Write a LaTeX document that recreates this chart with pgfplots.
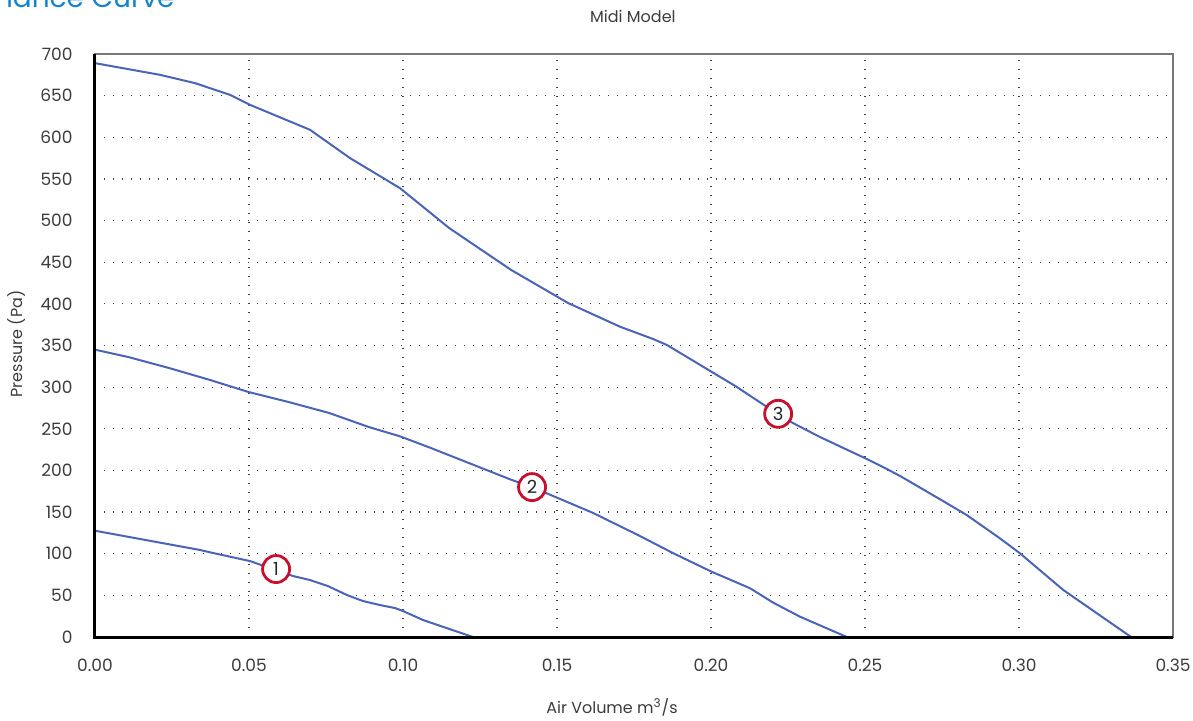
\documentclass[border=0pt]{standalone}
\usepackage{pgfplots}
\pgfplotsset{compat=1.18}
\usepackage{fontspec}
\setmainfont{Poppins}
\definecolor{curve}{RGB}{74,100,184}
\definecolor{ttl}{RGB}{20,132,206}
\definecolor{txt}{RGB}{60,60,60}
\definecolor{mark}{RGB}{200,16,46}
\definecolor{boxgray}{RGB}{120,120,120}
\pgfplotstableread{
x y
0.0000 127.6
0.0341 104.5
0.0383 100.9
0.0503 91.2
0.0643 73.2
0.0698 68.4
0.0756 61.2
0.0818 50.4
0.0870 43.2
0.0925 38.4
0.0974 34.8
0.1000 31.2
0.1065 20.4
0.1227 0
}\curveone
\pgfplotstableread{
x y
0.0000 345
0.0110 336
0.0240 323
0.0370 309
0.0500 294
0.0630 282
0.0760 269
0.0890 252
0.0990 241
0.1090 227
0.1220 208
0.1350 189
0.1419 180
0.1617 149
0.1769 121.3
0.1878 100.5
0.2002 78.4
0.2127 58.5
0.2202 41.2
0.2289 24.4
0.2441 0
}\curvetwo
\pgfplotstableread{
x y
0.0000 689
0.0211 675
0.0325 665
0.0438 651
0.0503 639
0.0698 609
0.0828 575
0.0990 539
0.1150 491
0.1350 441
0.1536 401
0.1705 372.5
0.1812 357.8
0.1857 350.6
0.2003 318.2
0.2084 300.2
0.2182 276.1
0.2266 256.9
0.2354 240.1
0.2506 213.7
0.2571 201.7
0.2614 193.3
0.2744 165.3
0.2830 146.5
0.2938 118.5
0.3003 100.5
0.3144 56.4
0.3364 0
}\curvethree
\begin{document}
\begin{tikzpicture}
\useasboundingbox (-47.5pt,-41.5pt) rectangle (549pt,318.5pt);
\clip (-47.5pt,-41.5pt) rectangle (549pt,318.5pt);
\begin{axis}[
  at={(0,0)}, anchor=south west,
  scale only axis, width=539pt, height=291.5pt,
  xmin=0, xmax=0.35, ymin=0, ymax=700,
  xtick={0,0.05,...,0.35}, ytick={0,50,...,700},
  major tick length=0pt,
  grid=major,
  major grid style={color=black!75, line width=0.6pt, dash pattern=on 0.6pt off 3.9pt},
  axis line style={boxgray, line width=1pt},
  /pgf/number format/assume math mode=true,
  xticklabel={\pgfmathprintnumber[fixed,fixed zerofill,precision=2]{\tick}},
  yticklabel={\pgfmathprintnumber[fixed,precision=0]{\tick}},
  tick label style={font=\fontsize{8.5}{10}\selectfont, text=txt},
  xticklabel style={inner sep=0pt, anchor=north, yshift=-11pt},
  yticklabel style={inner sep=0pt, anchor=east, xshift=-11pt},
  xlabel={Air Volume m\textsuperscript{3}/s},
  xlabel style={at={(axis description cs:0.4796,-0.12)}, anchor=center, font=\fontsize{8}{9}\selectfont, text=txt},
  ylabel={Pressure (Pa)},
  ylabel style={at={(axis description cs:-0.0724,0.5026)}, anchor=center, rotate=0, font=\fontsize{8}{9}\selectfont, text=txt},
  every axis title shift=0pt,
  title={Midi Model},
  title style={at={(axis description cs:0.499,1.0635)}, anchor=center, font=\fontsize{8}{9}\selectfont, text=txt},
  clip=false,
]
\addplot[curve, line width=1pt, no marks] table[x=x,y=y] {\curveone};
\addplot[curve, line width=1pt, no marks] table[x=x,y=y] {\curvetwo};
\addplot[curve, line width=1pt, no marks] table[x=x,y=y] {\curvethree};
\draw[black, line width=1.5pt] (rel axis cs:0,1) -- (rel axis cs:0,0) -- (rel axis cs:1,0);
\tikzset{circ/.style={circle, draw=mark, fill=white, line width=1.4pt, minimum size=13.5pt, inner sep=0pt, font=\fontsize{9}{10}\selectfont, text=black!85}}
\node[circ] at (axis cs:0.0588,81.6) {1};
\node[circ] at (axis cs:0.1419,180) {2};
\node[circ] at (axis cs:0.2218,268) {3};
\end{axis}
\node[anchor=base east, inner sep=0pt, text=ttl, font=\fontsize{14}{16}\selectfont] at (40pt,315pt) {Performance Curve};
\end{tikzpicture}
\end{document}
